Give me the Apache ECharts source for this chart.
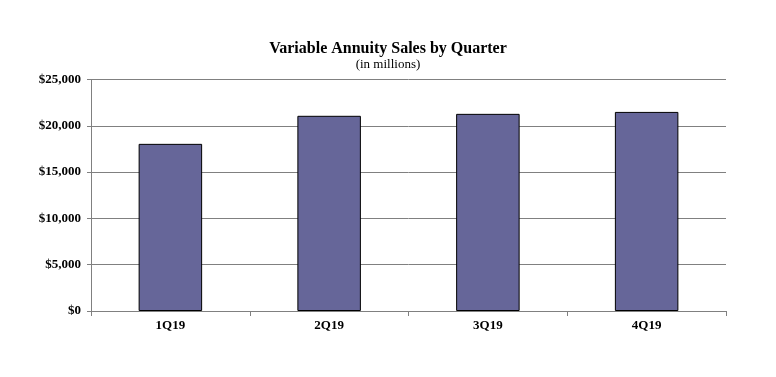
<!DOCTYPE html>
<html><head><meta charset="utf-8">
<script src="https://cdn.jsdelivr.net/npm/echarts@6/dist/echarts.min.js"></script>
<style>html,body{margin:0;padding:0;background:#fff}#c{width:776px;height:377px}</style>
</head><body><div id="c"></div>
<script>
var categories = ['1Q19', '2Q19', '3Q19', '4Q19'];
var sales = [18050, 21080, 21290, 21500];
var titleText = 'Variable Annuity Sales by Quarter';
var subtitleText = '(in millions)';

var chart = echarts.init(document.getElementById('c'), null, {renderer: 'canvas'});
var serif = '"Liberation Serif", "Times New Roman", serif';
chart.setOption({
  backgroundColor: '#ffffff',
  animation: false,
  title: {
    text: titleText,
    subtext: subtitleText,
    left: 'center',
    top: 36,
    itemGap: 1,
    textStyle: {fontFamily: serif, fontWeight: 'bold', fontSize: 16, color: '#000'},
    subtextStyle: {fontFamily: serif, fontSize: 13, color: '#000'}
  },
  grid: {left: 91, right: 50, top: 79.5, bottom: 66, containLabel: false},
  xAxis: {
    type: 'category',
    data: categories,
    axisLine: {lineStyle: {color: '#808080', width: 1}},
    axisTick: {show: true, inside: false, length: 5, lineStyle: {color: '#808080'}},
    axisLabel: {fontFamily: serif, fontWeight: 'bold', fontSize: 13, color: '#000', margin: 8}
  },
  yAxis: {
    type: 'value',
    min: 0, max: 25000, interval: 5000,
    axisLine: {show: true, lineStyle: {color: '#808080', width: 1}},
    axisTick: {show: true, length: 4, lineStyle: {color: '#808080'}},
    splitLine: {lineStyle: {color: '#808080', width: 1}},
    axisLabel: {
      fontFamily: serif, fontWeight: 'bold', fontSize: 13, color: '#000', margin: 10,
      formatter: function (v) { return '$' + v.toLocaleString('en-US'); }
    }
  },
  series: [{
    type: 'bar',
    data: sales,
    barWidth: '40%',
    itemStyle: {color: '#666699', borderColor: '#000', borderWidth: 1}
  }]
});
</script></body></html>
